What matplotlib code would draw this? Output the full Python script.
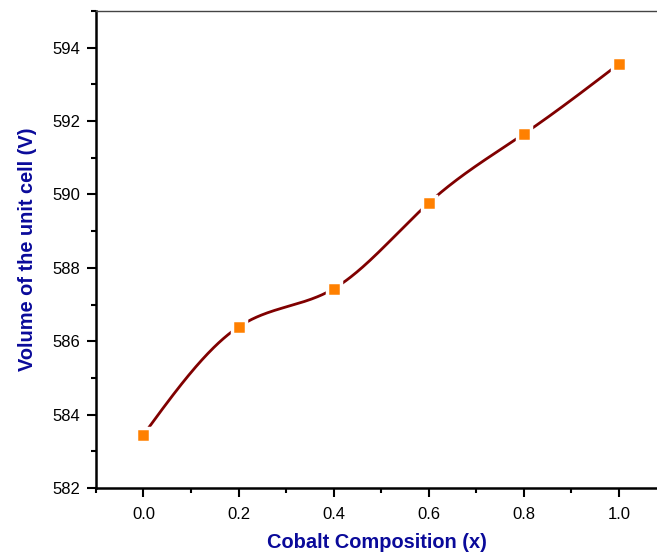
import numpy as np
import matplotlib
matplotlib.use("Agg")
import matplotlib.pyplot as plt
from matplotlib.ticker import MultipleLocator, FormatStrFormatter

# Cobalt composition vs. unit cell volume
composition = [0.0, 0.2, 0.4, 0.6, 0.8, 1.0]
cell_volume = [583.45, 586.39, 587.43, 589.77, 591.65, 593.56]


def natural_cubic_spline(x, y, xs):
    x = np.asarray(x, float)
    y = np.asarray(y, float)
    n = len(x)
    h = np.diff(x)
    A = np.zeros((n, n))
    b = np.zeros(n)
    A[0, 0] = A[-1, -1] = 1.0
    for i in range(1, n - 1):
        A[i, i - 1] = h[i - 1]
        A[i, i] = 2 * (h[i - 1] + h[i])
        A[i, i + 1] = h[i]
        b[i] = 6 * ((y[i + 1] - y[i]) / h[i] - (y[i] - y[i - 1]) / h[i - 1])
    M = np.linalg.solve(A, b)
    idx = np.clip(np.searchsorted(x, xs) - 1, 0, n - 2)
    x0, x1 = x[idx], x[idx + 1]
    hh = x1 - x0
    t0 = x1 - xs
    t1 = xs - x0
    return (M[idx] * t0**3 / (6 * hh) + M[idx + 1] * t1**3 / (6 * hh)
            + (y[idx] / hh - M[idx] * hh / 6) * t0
            + (y[idx + 1] / hh - M[idx + 1] * hh / 6) * t1)


plt.rcParams['font.family'] = ['Liberation Sans', 'DejaVu Sans']

fig = plt.figure(figsize=(6.57, 5.52), dpi=100)
ax = fig.add_axes([0.146, 0.116, 0.854, 0.864])

xs = np.linspace(composition[0], composition[-1], 400)
ax.plot(xs, natural_cubic_spline(composition, cell_volume, xs),
        color='#800000', lw=2.0, zorder=2)
ax.plot(composition, cell_volume, linestyle='none', marker='s',
        markersize=9.5, markerfacecolor='#FF8000', markeredgecolor='white',
        markeredgewidth=2.5, zorder=3)

ax.set_xlim(-0.1, 1.08)
ax.set_ylim(582, 595)
ax.xaxis.set_major_locator(MultipleLocator(0.2))
ax.xaxis.set_minor_locator(MultipleLocator(0.1))
ax.yaxis.set_major_locator(MultipleLocator(2))
ax.yaxis.set_minor_locator(MultipleLocator(1))
ax.xaxis.set_major_formatter(FormatStrFormatter('%.1f'))

ax.tick_params(which='major', direction='out', length=6.5, width=1.5,
               labelsize=12, color='black')
ax.tick_params(axis='x', which='major', pad=7)
ax.tick_params(axis='y', which='major', pad=5)
ax.tick_params(which='minor', direction='out', length=3.5, width=1.5,
               color='black')

ax.spines['right'].set_visible(False)
ax.spines['top'].set_linewidth(1.0)
ax.spines['top'].set_color('#444444')
ax.spines['left'].set_linewidth(1.8)
ax.spines['bottom'].set_linewidth(1.8)

label_color = '#0A0A9A'
ax.set_xlabel('Cobalt Composition (x)', fontsize=14.4, fontweight='bold',
              color=label_color, labelpad=8)
ax.set_ylabel('Volume of the unit cell (V)', fontsize=14.4, fontweight='bold',
              color=label_color, labelpad=11)

fig.savefig('out.png', dpi=100)
